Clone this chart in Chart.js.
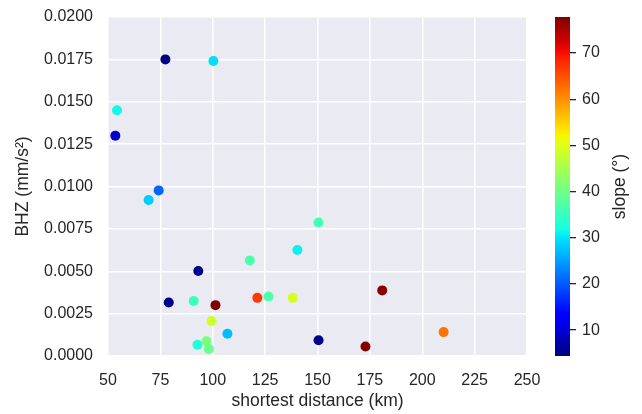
<!DOCTYPE html>
<html>
<head>
<meta charset="utf-8">
<script src="https://cdn.jsdelivr.net/npm/chart.js@4.4.0/dist/chart.umd.min.js"></script>
<style>
  html, body { margin: 0; padding: 0; background: #fff; }
  #wrap { position: relative; width: 642px; height: 414px; }
  #mainBox { position: absolute; left: 0; top: 0; width: 642px; height: 414px; }
  #cbBox { position: absolute; left: 540px; top: 0; width: 102px; height: 414px; }
</style>
</head>
<body>
<div id="wrap">
  <div id="mainBox"><canvas id="scatterChart"></canvas></div>
  <div id="cbBox"><canvas id="colorbarChart"></canvas></div>
</div>
<script>
// shortest distance (km), BHZ (mm/s^2), slope (deg)
const distance = [77.4, 100.3, 54.3, 53.5, 74.2, 69.4, 117.7, 93.1, 79.0, 90.9, 101.3, 121.3, 126.6,
  99.4, 107.0, 92.7, 97.0, 98.1, 150.5, 140.4, 138.2, 180.9, 150.5, 172.9, 210.2];
const bhz = [0.0175, 0.0174, 0.0145, 0.0130, 0.00977, 0.0092, 0.00564, 0.00501, 0.00316, 0.00325,
  0.0030, 0.00343, 0.00351, 0.00207, 0.00131, 0.00066, 0.00087, 0.00042, 0.00788, 0.00625,
  0.00343, 0.00387, 0.00093, 0.00056, 0.00141];
const slope = [4.4, 29.6, 31.6, 9.0, 20.9, 28.3, 36.7, 5.1, 5.1, 35.2, 77.8, 66.8, 37.0,
  48.5, 27.2, 33.0, 41.0, 39.6, 36.0, 31.0, 49.2, 77.0, 5.0, 77.3, 62.4];

const xTicks = [50, 75, 100, 125, 150, 175, 200, 225, 250];
const yTicks = [0, 0.0025, 0.005, 0.0075, 0.01, 0.0125, 0.015, 0.0175, 0.02];
const cbTicks = [10, 20, 30, 40, 50, 60, 70];
const slopeMin = 4.4;
const slopeMax = 77.8;

const textColor = "#262626";
const tickFont = { family: "Liberation Sans, Arial, sans-serif", size: 16 };
const labelFont = { family: "Liberation Sans, Arial, sans-serif", size: 17.5 };

// matplotlib "jet" segment data
const jetData = {
  r: [[0, 0], [0.35, 0], [0.66, 1], [0.89, 1], [1, 0.5]],
  g: [[0, 0], [0.125, 0], [0.375, 1], [0.64, 1], [0.91, 0], [1, 0]],
  b: [[0, 0.5], [0.11, 1], [0.34, 1], [0.65, 0], [1, 0]],
};
function interp(seg, t) {
  for (let i = 1; i < seg.length; i++) {
    if (t <= seg[i][0]) {
      const [x0, y0] = seg[i - 1];
      const [x1, y1] = seg[i];
      return y0 + ((t - x0) / (x1 - x0)) * (y1 - y0);
    }
  }
  return seg[seg.length - 1][1];
}
function jet(t) {
  t = Math.max(0, Math.min(1, t));
  const r = Math.round(interp(jetData.r, t) * 255);
  const g = Math.round(interp(jetData.g, t) * 255);
  const b = Math.round(interp(jetData.b, t) * 255);
  return `rgb(${r},${g},${b})`;
}

const points = distance.map((d, i) => ({ x: d, y: bhz[i] }));
const pointColors = slope.map((s) => jet((s - slopeMin) / (slopeMax - slopeMin)));

const plotBackground = {
  id: "plotBackground",
  beforeDraw(chart) {
    const { ctx, chartArea } = chart;
    ctx.save();
    ctx.fillStyle = "#EAEAF2";
    ctx.fillRect(chartArea.left, chartArea.top, chartArea.right - chartArea.left, chartArea.bottom - chartArea.top);
    ctx.restore();
  },
};

new Chart(document.getElementById("scatterChart"), {
  type: "scatter",
  data: {
    datasets: [
      {
        data: points,
        backgroundColor: pointColors,
        borderWidth: 0,
        pointRadius: 5,
      },
    ],
  },
  options: {
    responsive: true,
    maintainAspectRatio: false,
    animation: false,
    layout: { padding: { left: 0, top: 17, right: 115, bottom: 0 } },
    plugins: { legend: { display: false }, tooltip: { enabled: false } },
    scales: {
      x: {
        type: "linear",
        min: 50,
        max: 250,
        afterBuildTicks: (scale) => { scale.ticks = xTicks.map((v) => ({ value: v })); },
        afterFit: (scale) => { scale.height = 58; },
        ticks: { color: textColor, font: tickFont, padding: 15 },
        grid: { color: "#ffffff", lineWidth: 1.5, drawTicks: false },
        border: { display: false },
        title: { display: true, text: "shortest distance (km)", color: textColor, font: labelFont, padding: { top: 0, bottom: 2 } },
      },
      y: {
        type: "linear",
        min: 0,
        max: 0.02,
        afterBuildTicks: (scale) => { scale.ticks = yTicks.map((v) => ({ value: v })); },
        afterFit: (scale) => { scale.width = 108; },
        ticks: { color: textColor, font: tickFont, padding: 6, callback: (v) => v.toFixed(4) },
        grid: { color: "#ffffff", lineWidth: 1.5, drawTicks: true, tickLength: 9, tickColor: "rgba(0,0,0,0)" },
        border: { display: false },
        title: { display: true, text: "BHZ (mm/s²)", color: textColor, font: labelFont, padding: { top: 13, bottom: 0 } },
      },
    },
  },
  plugins: [plotBackground],
});

// colorbar
const colorbarFill = {
  id: "colorbarFill",
  beforeDraw(chart) {
    const { ctx, chartArea } = chart;
    const grad = ctx.createLinearGradient(0, chartArea.bottom, 0, chartArea.top);
    for (let i = 0; i <= 40; i++) {
      grad.addColorStop(i / 40, jet(i / 40));
    }
    ctx.save();
    ctx.fillStyle = grad;
    ctx.fillRect(chartArea.left, chartArea.top, chartArea.right - chartArea.left, chartArea.bottom - chartArea.top);
    ctx.restore();
  },
  afterDraw(chart) {
    const { ctx, chartArea } = chart;
    ctx.save();
    ctx.translate(80, (chartArea.top + chartArea.bottom) / 2);
    ctx.rotate(-Math.PI / 2);
    ctx.fillStyle = textColor;
    ctx.font = `${labelFont.size}px ${labelFont.family}`;
    ctx.textAlign = "center";
    ctx.textBaseline = "middle";
    ctx.fillText("slope (°)", 0, 0);
    ctx.restore();
  },
};

new Chart(document.getElementById("colorbarChart"), {
  type: "scatter",
  data: { datasets: [] },
  options: {
    responsive: true,
    maintainAspectRatio: false,
    animation: false,
    layout: { padding: { left: 15, top: 17, right: 0, bottom: 58 } },
    plugins: { legend: { display: false }, tooltip: { enabled: false } },
    scales: {
      x: { display: false, min: 0, max: 1 },
      y: {
        position: "right",
        min: slopeMin,
        max: slopeMax,
        afterBuildTicks: (scale) => { scale.ticks = cbTicks.map((v) => ({ value: v })); },
        afterFit: (scale) => { scale.width = 72; },
        ticks: { color: textColor, font: tickFont, padding: 6 },
        grid: { drawOnChartArea: false, drawTicks: true, tickLength: 6, color: textColor, lineWidth: 1.3 },
        border: { display: false },
      },
    },
  },
  plugins: [colorbarFill],
});
</script>
</body>
</html>
